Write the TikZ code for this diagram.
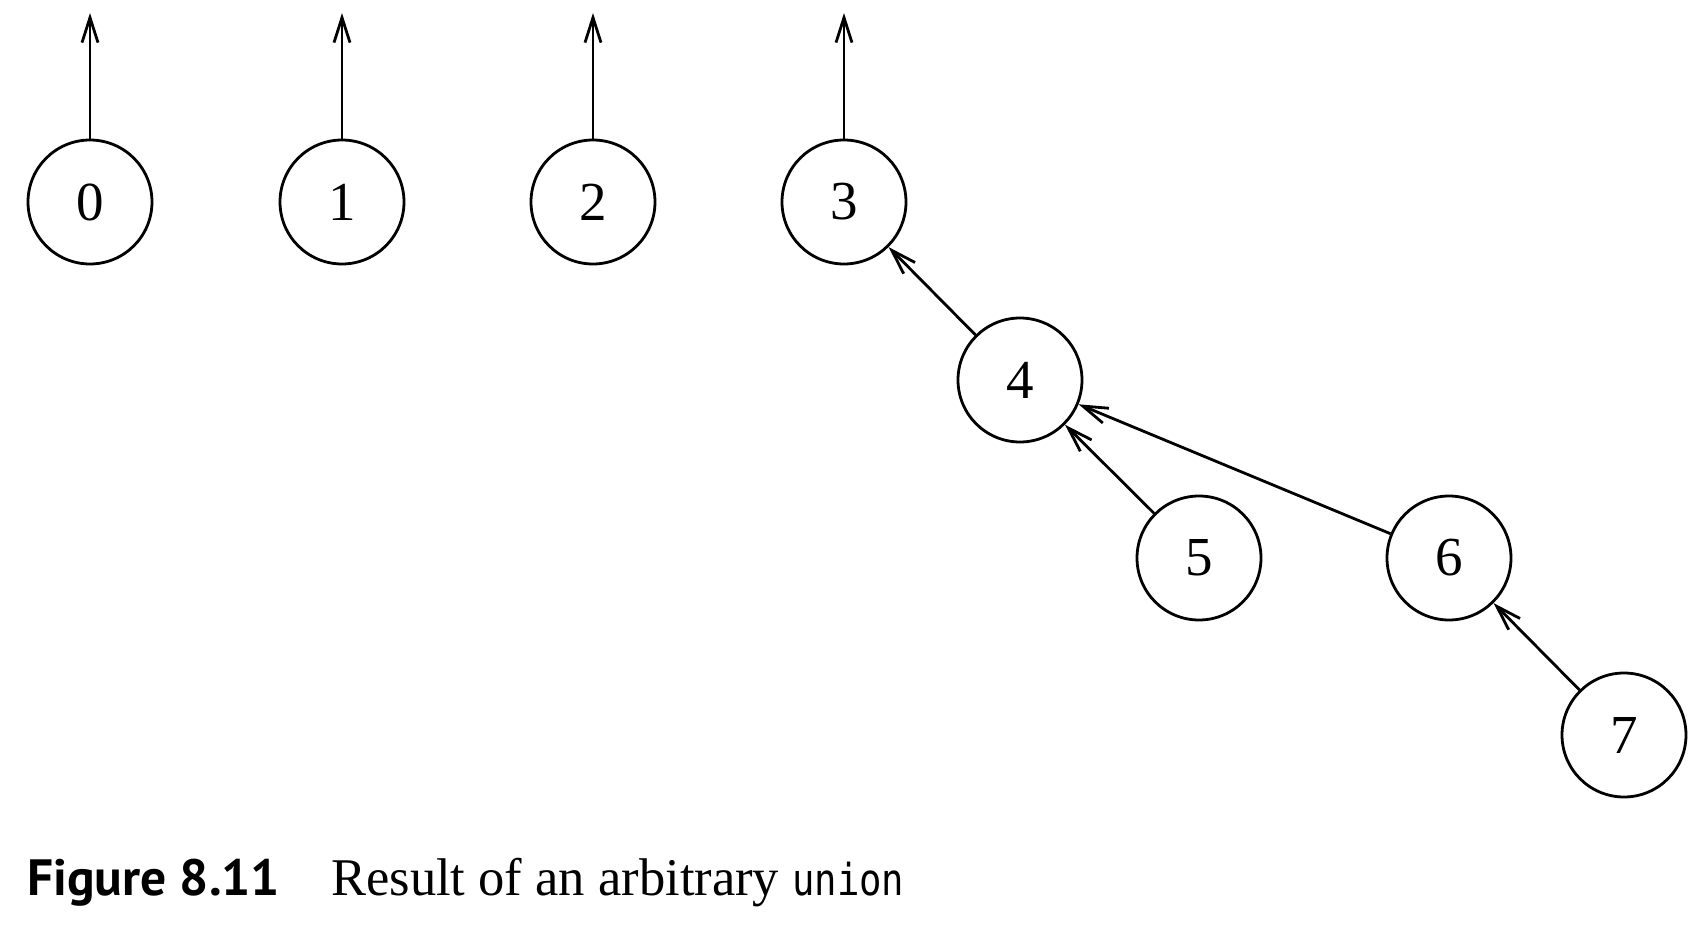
\documentclass[tikz,border=0pt]{standalone}
\usepackage{fontspec}
\usepackage{graphicx}
\setmainfont{Liberation Serif}
\newfontfamily\figsans{PT Sans}
\newfontfamily\figmono{DejaVu Sans Mono}
\usetikzlibrary{arrows.meta}
\begin{document}
\begin{tikzpicture}[x=1pt,y=1pt,
  vtx/.style={circle,draw,line width=2.8pt,minimum size=124pt,inner sep=0pt,font=\fontsize{55}{60}\selectfont},
  link/.style={line width=2.8pt,-{Straight Barb[length=25pt,width=16pt,line width=2.8pt]}},
  captxt/.style={anchor=base west,inner sep=0pt}]
\useasboundingbox (0,0) rectangle (1698,-928);
\node[vtx] (n0) at (90,-202) {0};
\node[vtx] (n1) at (342,-202) {1};
\node[vtx] (n2) at (593,-202) {2};
\node[vtx] (n3) at (844,-202) {3};
\node[vtx] (n4) at (1020,-380) {4};
\node[vtx] (n5) at (1199,-558) {5};
\node[vtx] (n6) at (1449,-558) {6};
\node[vtx] (n7) at (1624,-735) {7};
\coordinate (t0) at (90,-13);
\coordinate (t1) at (342,-13);
\coordinate (t2) at (593,-13);
\coordinate (t3) at (844,-13);
\draw[link] (n0.north) -- (t0);
\draw[link] (n1.north) -- (t1);
\draw[link] (n2.north) -- (t2);
\draw[link] (n3.north) -- (t3);
\draw[link] (n4) -- (n3);
\draw[link] (n5) -- (n4);
\draw[link] (n6) -- (n4);
\draw[link] (n7) -- (n6);
\node[captxt] (fig) at (27,-895) {\resizebox{253pt}{\height}{\figsans\bfseries\fontsize{51}{56}\selectfont Figure 8.11}};
\node[captxt] (desc) at (331,-895) {\resizebox{448pt}{\height}{\fontsize{53}{58}\selectfont Result of an arbitrary}};
\node[captxt] (code) at (792,-895) {\resizebox{112pt}{\height}{\figmono\fontsize{44}{50}\selectfont union}};
\end{tikzpicture}
\end{document}
